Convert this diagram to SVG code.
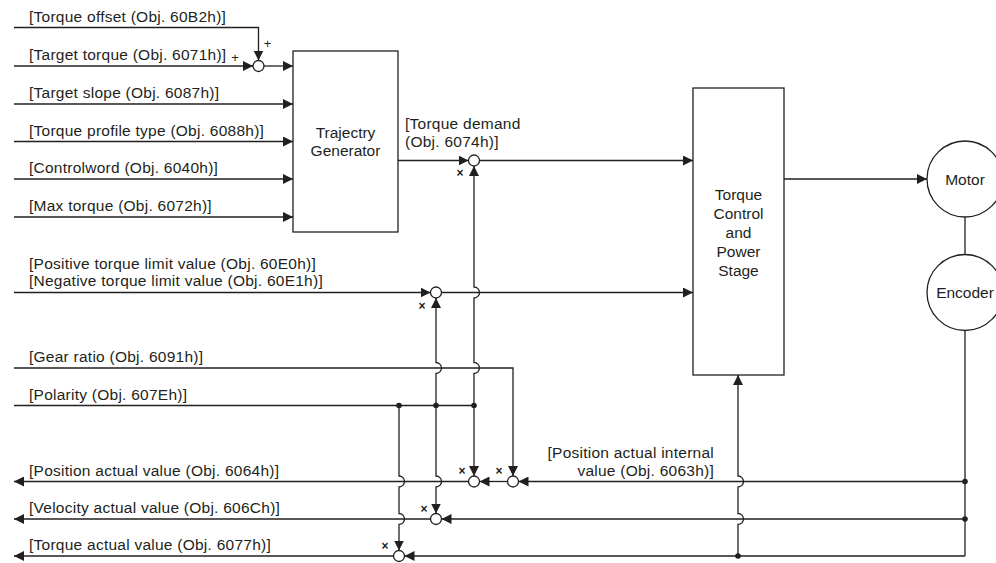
<svg xmlns="http://www.w3.org/2000/svg" width="996" height="563" viewBox="0 0 996 563">
<defs>
<marker id="arr" markerUnits="userSpaceOnUse" markerWidth="10" markerHeight="10" refX="10" refY="5" orient="auto" viewBox="0 0 10 10">
<path d="M0,0 L10,5 L0,10 Z" fill="#231f20"/>
</marker>
<style>
.ln{fill:none;stroke:#231f20;stroke-width:1.3}
.ar{marker-end:url(#arr)}
.bx{fill:#fff;stroke:#231f20;stroke-width:1.3}
.sj{fill:#fff;stroke:#231f20;stroke-width:1.3}
.dot{fill:#231f20}
text{font-family:"Liberation Sans",Arial,sans-serif;font-size:15.5px;fill:#231f20;letter-spacing:0.25px}
.c{text-anchor:middle;letter-spacing:0}
.e{text-anchor:end}
.x{font-size:12px;font-weight:bold;text-anchor:middle;letter-spacing:0}
.p{font-size:13px;text-anchor:middle;letter-spacing:0}
</style>
</defs>
<rect width="996" height="563" fill="#fff"/>

<g id="connectors">
<path class="ln ar" d="M14,27.5 H258.5 V60.5"/>
<path class="ln ar" d="M14,66 H253"/>
<path class="ln ar" d="M264,66 H293"/>
<path class="ln ar" d="M14,104 H293"/>
<path class="ln ar" d="M14,141.5 H293"/>
<path class="ln ar" d="M14,179 H293"/>
<path class="ln ar" d="M14,217 H293"/>
<path class="ln ar" d="M398,160.5 H468.5"/>
<path class="ln ar" d="M479.5,160.5 H693"/>
<path class="ln ar" d="M14,292.5 H430.5"/>
<path class="ln ar" d="M441.5,292.5 H693"/>
<path class="ln ar" d="M14,368 H513 V476"/>
<path class="ln" d="M14,405.5 H474"/>
<path class="ln ar" d="M474,405.5 V373.5 A5.5,5.5 0 0 0 474,362.5 V298 A5.5,5.5 0 0 0 474,287 V166"/>
<path class="ln ar" d="M474,405.5 V476"/>
<path class="ln ar" d="M436,405.5 V373.5 A5.5,5.5 0 0 0 436,362.5 V298"/>
<path class="ln ar" d="M436,405.5 V476 A5.5,5.5 0 0 1 436,487 V513.5"/>
<path class="ln ar" d="M399,405.5 V476 A5.5,5.5 0 0 1 399,487 V513.5 A5.5,5.5 0 0 1 399,524.5 V550.5"/>
<path class="ln ar" d="M965,481.5 H518.5"/>
<path class="ln ar" d="M507.5,481.5 H479.5"/>
<path class="ln ar" d="M468.5,481.5 H14"/>
<path class="ln ar" d="M965,519 H441.5"/>
<path class="ln ar" d="M430.5,519 H14"/>
<path class="ln ar" d="M965,556 H404.5"/>
<path class="ln ar" d="M393.5,556 H14"/>
<path class="ln ar" d="M738,556 V524.5 A5.5,5.5 0 0 0 738,513.5 V487 A5.5,5.5 0 0 0 738,476 V375"/>
<path class="ln" d="M965,330.5 V556"/>
<path class="ln" d="M965,217 V254.5"/>
<path class="ln ar" d="M784,179 H927"/>
<circle class="dot" cx="399" cy="405.5" r="2.8"/>
<circle class="dot" cx="436" cy="405.5" r="2.8"/>
<circle class="dot" cx="474" cy="405.5" r="2.8"/>
<circle class="dot" cx="965" cy="481.5" r="2.8"/>
<circle class="dot" cx="965" cy="519" r="2.8"/>
<circle class="dot" cx="738" cy="556" r="2.8"/>
</g>

<g id="labels">
<text x="29" y="21.5">[Torque offset (Obj. 60B2h)]</text>
<text x="29" y="60">[Target torque (Obj. 6071h)]</text>
<text x="29" y="98">[Target slope (Obj. 6087h)]</text>
<text x="29" y="135.5">[Torque profile type (Obj. 6088h)]</text>
<text x="29" y="173">[Controlword (Obj. 6040h)]</text>
<text x="29" y="211">[Max torque (Obj. 6072h)]</text>
<text x="405" y="129">[Torque demand</text>
<text x="405" y="147">(Obj. 6074h)]</text>
<text x="29" y="269">[Positive torque limit value (Obj. 60E0h)]</text>
<text x="29" y="286">[Negative torque limit value (Obj. 60E1h)]</text>
<text x="29" y="362">[Gear ratio (Obj. 6091h)]</text>
<text x="29" y="399.5">[Polarity (Obj. 607Eh)]</text>
<text class="e" x="714" y="458">[Position actual internal</text>
<text class="e" x="714" y="475.5">value (Obj. 6063h)]</text>
<text x="29" y="475.5">[Position actual value (Obj. 6064h)]</text>
<text x="29" y="513">[Velocity actual value (Obj. 606Ch)]</text>
<text x="29" y="550">[Torque actual value (Obj. 6077h)]</text>
</g>

<g id="sum-offset">
<circle class="sj" cx="258.5" cy="66" r="5.5"/>
<text class="p" x="235" y="61.5">+</text>
<text class="p" x="267.5" y="47.5">+</text>
</g>
<g id="trajectory-generator">
<rect class="bx" x="293" y="51" width="105" height="181"/>
<text class="c" x="345.5" y="138">Trajectry</text>
<text class="c" x="345.5" y="156">Generator</text>
</g>
<g id="mul-demand">
<circle class="sj" cx="474" cy="160.5" r="5.5"/>
<text class="x" x="460" y="177">×</text>
</g>
<g id="mul-limit">
<circle class="sj" cx="436" cy="292.5" r="5.5"/>
<text class="x" x="422" y="310">×</text>
</g>
<g id="mul-pos-polarity">
<circle class="sj" cx="474" cy="481.5" r="5.5"/>
<text class="x" x="462" y="475">×</text>
</g>
<g id="mul-pos-gear">
<circle class="sj" cx="513" cy="481.5" r="5.5"/>
<text class="x" x="499" y="475">×</text>
</g>
<g id="mul-velocity">
<circle class="sj" cx="436" cy="519" r="5.5"/>
<text class="x" x="424" y="513">×</text>
</g>
<g id="mul-torque">
<circle class="sj" cx="399" cy="556" r="5.5"/>
<text class="x" x="385" y="550">×</text>
</g>
<g id="torque-control">
<rect class="bx" x="693" y="88" width="91" height="287"/>
<text class="c" x="738.5" y="200">Torque</text>
<text class="c" x="738.5" y="219">Control</text>
<text class="c" x="738.5" y="238">and</text>
<text class="c" x="738.5" y="257">Power</text>
<text class="c" x="738.5" y="276">Stage</text>
</g>
<g id="motor">
<circle class="bx" cx="965" cy="179" r="38"/>
<text class="c" x="965" y="184.5">Motor</text>
</g>
<g id="encoder">
<circle class="bx" cx="965" cy="292.5" r="38"/>
<text class="c" x="965" y="298">Encoder</text>
</g>
</svg>
